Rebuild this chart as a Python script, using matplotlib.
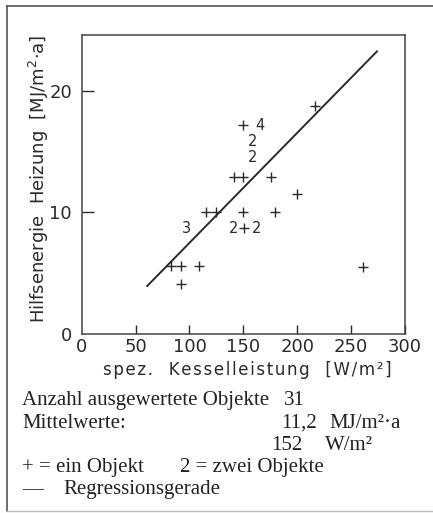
import matplotlib
matplotlib.use("Agg")
import matplotlib.pyplot as plt
from matplotlib.lines import Line2D

# ---- data ----
plus_x = [149.6, 141.3, 149.6, 175.3, 199.6, 115.1, 125.0, 149.6, 179.0,
          150.6, 82.7, 92.6, 108.6, 91.7, 216.7, 261.4]
plus_y = [17.17, 12.88, 12.88, 12.88, 11.48, 10.02, 10.02, 10.02, 10.02,
          8.69, 5.59, 5.59, 5.59, 4.13, 18.76, 5.53]
num_x = [165.4, 158.9, 158.9, 97.2, 141.3, 162.0]
num_y = [17.17, 15.80, 14.52, 8.69, 8.69, 8.69]
num_label = ["4", "2", "2", "3", "2", "2"]
reg_x = [60.2, 274.6]
reg_y = [3.89, 23.28]
xticks = [0, 50, 100, 150, 200, 250, 300]
yticks = [0, 10, 20]


def spread(s, gap="\u200a"):
    return gap.join(s)


W, H = 433, 513
fig = plt.figure(figsize=(W / 100, H / 100), dpi=100)
ax = fig.add_axes([81.7 / W, 1 - 334 / H, (405 - 81.7) / W, (334 - 35) / H])

ink = "#2a2a2a"
ax.plot(reg_x, reg_y, color=ink, lw=1.4, solid_capstyle="butt")
ax.plot(plus_x, plus_y, ls="none", marker="+", ms=6.5, mew=1.0, color=ink)
for x, y, t in zip(num_x, num_y, num_label):
    ax.text(x, y, t, ha="center", va="center", fontsize=10.5, color=ink)

ax.set_xlim(0, 299)
ax.set_ylim(0, 24.57)
ax.set_xticks(xticks)
ax.set_yticks(yticks)
ax.tick_params(axis="x", direction="in", length=6.5, width=1.0, colors=ink,
               labelsize=13, pad=3)
ax.tick_params(axis="y", direction="in", length=8.5, width=1.0, colors=ink,
               labelsize=13, pad=7)
ax.xaxis.get_major_ticks()[0].tick1line.set_visible(False)
ax.yaxis.get_major_ticks()[0].tick1line.set_visible(False)
for s in ax.spines.values():
    s.set_color("#444444")
    s.set_linewidth(1.1)

xlab = spread("spez.") + "   " + spread("Kesselleistung") + "   " + spread("[W/m²]")
fig.text(247 / W, 1 - 375 / H, xlab,
         ha="center", va="baseline", fontsize=12, color=ink)
fig.text(39 / W, 1 - 178.5 / H, "Hilfsenergie  Heizung  [MJ/m$^2$·a]",
         ha="center", va="center", rotation=90, fontsize=13, color=ink)

# frame
fig.add_artist(Line2D([7 / W, 1.0], [1 - 6 / H, 1 - 6 / H],
                      transform=fig.transFigure, color="#555555", lw=1.2))
fig.add_artist(Line2D([7 / W, 7 / W], [1 - 6 / H, 1 - 511 / H],
                      transform=fig.transFigure, color="#555555", lw=1.2))
fig.add_artist(Line2D([7 / W, 1.0], [1 - 511 / H, 1 - 511 / H],
                      transform=fig.transFigure, color="#bbbbbb", lw=1.0))

serif = dict(family="Liberation Serif", fontsize=15, color="#222222", va="baseline")
rows = [405, 428, 450, 472, 494]
fig.text(22 / W, 1 - rows[0] / H, "Anzahl ausgewertete Objekte", **serif)
fig.text(284 / W, 1 - rows[0] / H, "31", **serif)
fig.text(22 / W, 1 - rows[1] / H, "Mittelwerte:", **serif)
fig.text(317 / W, 1 - rows[1] / H, "11,2", ha="right", **serif)
fig.text(329 / W, 1 - rows[1] / H, "MJ/m²·a", **serif)
fig.text(302 / W, 1 - rows[2] / H, "152", ha="right", **serif)
fig.text(325 / W, 1 - rows[2] / H, "W/m²", **serif)
fig.text(22 / W, 1 - rows[3] / H, "+ = ein Objekt", **serif)
fig.text(180 / W, 1 - rows[3] / H, "2 = zwei Objekte", **serif)
fig.text(22 / W, 1 - rows[4] / H, "—", **serif)
fig.text(63 / W, 1 - rows[4] / H, "Regressionsgerade", **serif)

fig.savefig("out.png", dpi=100)
